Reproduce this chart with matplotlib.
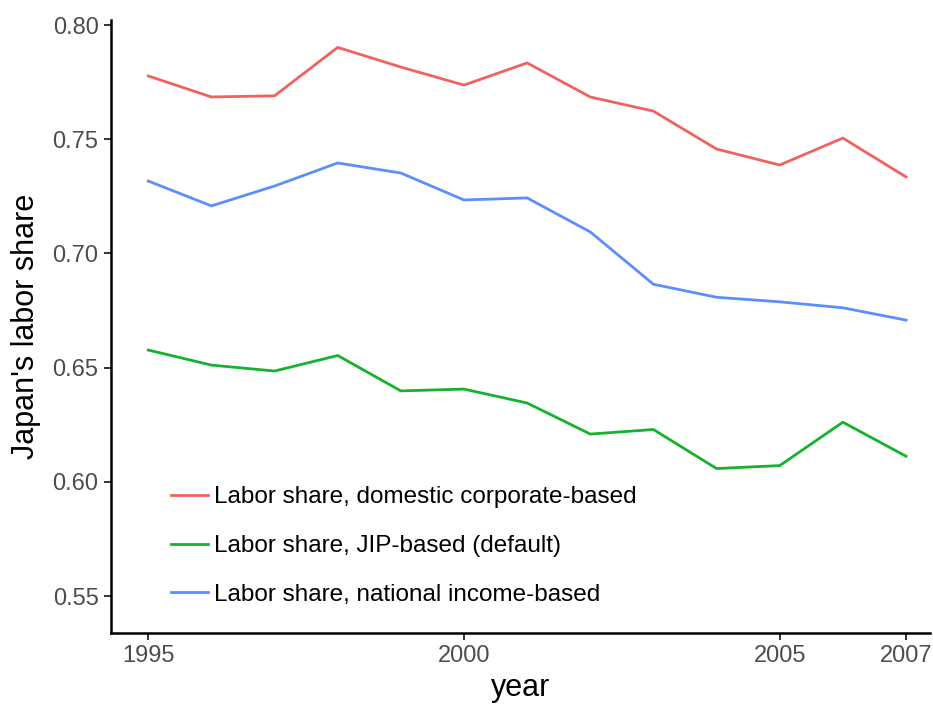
import matplotlib.pyplot as plt

plt.rcParams['font.family'] = ['Liberation Sans', 'DejaVu Sans']

years = [1995, 1996, 1997, 1998, 1999, 2000, 2001, 2002, 2003, 2004, 2005, 2006, 2007]
domestic = [0.7777, 0.7685, 0.7690, 0.7902, 0.7816, 0.7737, 0.7834, 0.7685, 0.7623,
            0.7457, 0.7387, 0.7505, 0.7335]
jip = [0.6577, 0.6511, 0.6485, 0.6553, 0.6398, 0.6406, 0.6345, 0.6209, 0.6229,
       0.6058, 0.6071, 0.6261, 0.6112]
national = [0.7317, 0.7208, 0.7295, 0.7396, 0.7352, 0.7234, 0.7243, 0.7094, 0.6865,
            0.6808, 0.6788, 0.6762, 0.6708]
labels = ['Labor share, domestic corporate-based',
          'Labor share, JIP-based (default)',
          'Labor share, national income-based']

fig = plt.figure(figsize=(9.33, 7.07), dpi=100)
ax = fig.add_axes([111/933, 1 - 633/707, (930 - 111)/933, (633 - 20)/707])

ax.plot(years, domestic, color='#F2625D', linewidth=2.0, label=labels[0])
ax.plot(years, jip, color='#16B22E', linewidth=2.0, label=labels[1])
ax.plot(years, national, color='#5C8EFC', linewidth=2.0, label=labels[2])

ax.set_xlim(1994.41, 2007.38)
ax.set_ylim(0.5338, 0.8022)
ax.set_xticks([1995, 2000, 2005, 2007])
ax.set_yticks([0.55, 0.60, 0.65, 0.70, 0.75, 0.80])
ax.set_yticklabels(['0.55', '0.60', '0.65', '0.70', '0.75', '0.80'])

for s in ['top', 'right']:
    ax.spines[s].set_visible(False)
for s in ['left', 'bottom']:
    ax.spines[s].set_linewidth(1.8)
    ax.spines[s].set_color('black')
ax.tick_params(axis='both', labelsize=17, labelcolor='#4D4D4D', length=5, width=1.4,
               color='#333333', pad=4)

ax.set_xlabel('year', fontsize=22, labelpad=4)
ax.set_ylabel("Japan's labor share", fontsize=22, labelpad=8)

leg = ax.legend(loc='upper left', bbox_to_anchor=(0.046, 0.275), frameon=False,
                fontsize=17.5, handlelength=1.55, handletextpad=0.25, labelspacing=1.1)

fig.savefig('out.png', dpi=100)
